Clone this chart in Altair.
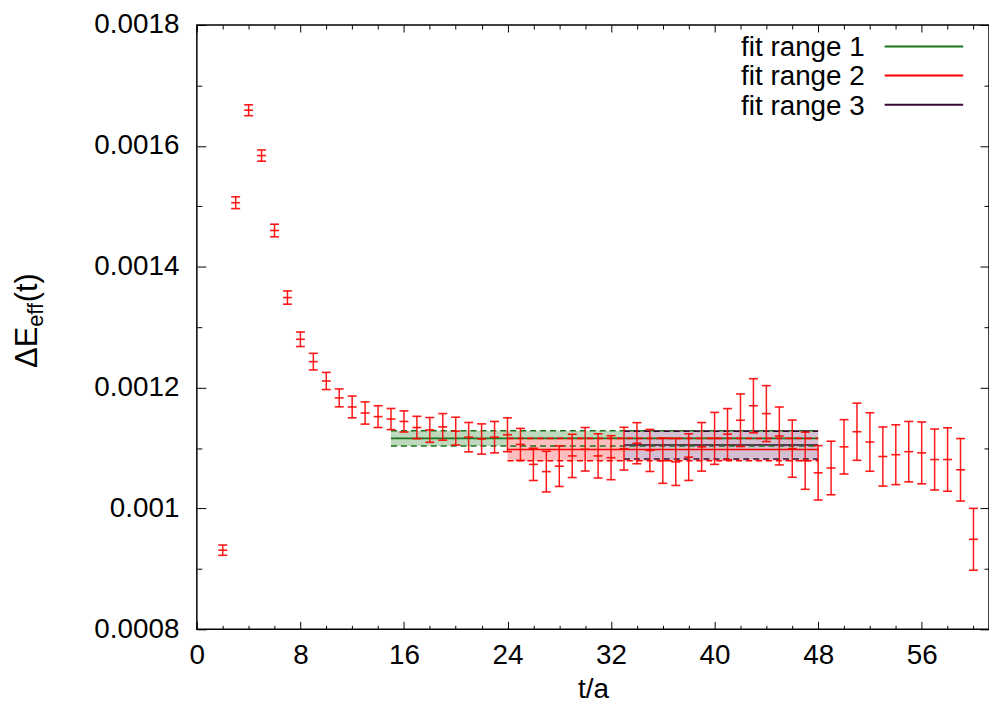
import altair as alt
import pandas as pd

# ---------------- data ----------------
t_vals = list(range(2, 61))
dE = [0.000931, 0.001506, 0.001659, 0.001584, 0.001460, 0.001349, 0.001280, 0.001243,
      0.001211, 0.001183, 0.001168, 0.001158, 0.001152, 0.001148, 0.001144, 0.001134,
      0.001130, 0.001135, 0.001128, 0.001118, 0.001115, 0.001118, 0.001122, 0.001106,
      0.001073, 0.001061, 0.001070, 0.001087, 0.001098, 0.001087, 0.001084, 0.001099,
      0.001108, 0.001096, 0.001079, 0.001077, 0.001085, 0.001102, 0.001116, 0.001123,
      0.001146, 0.001170, 0.001157, 0.001120, 0.001099, 0.001079, 0.001059, 0.001067,
      0.001102, 0.001127, 0.001110, 0.001086, 0.001089, 0.001094, 0.001092, 0.001081,
      0.001081, 0.001064, 0.000949]
dE_err = [8.5e-6, 9.8e-6, 9.0e-6, 9.3e-6, 1.04e-5, 1.1e-5, 1.2e-5, 1.37e-5,
          1.42e-5, 1.48e-5, 1.8e-5, 1.84e-5, 1.8e-5, 1.75e-5, 1.75e-5, 1.85e-5,
          2.05e-5, 2.2e-5, 2.3e-5, 2.43e-5, 2.5e-5, 2.6e-5, 2.8e-5, 2.65e-5,
          2.67e-5, 3.36e-5, 3.36e-5, 3.58e-5, 3.6e-5, 3.66e-5, 3.64e-5, 3.53e-5,
          3.4e-5, 3.48e-5, 3.74e-5, 3.89e-5, 3.86e-5, 4.02e-5, 4.3e-5, 4.23e-5,
          4.35e-5, 4.48e-5, 4.63e-5, 4.79e-5, 4.73e-5, 4.73e-5, 4.5e-5, 4.43e-5,
          4.5e-5, 4.73e-5, 4.84e-5, 4.89e-5, 4.95e-5, 5.0e-5, 5.12e-5, 5.05e-5,
          5.25e-5, 5.17e-5, 5.12e-5]

fit_names = ["fit range 1", "fit range 2", "fit range 3"]
fit_t0 = [15, 24, 33]
fit_t1 = [48, 48, 48]
fit_val = [0.001116, 0.0010975, 0.001105]
fit_err = [0.0000125, 0.0000185, 0.000023]
fit_line_colors = ["#1a741a", "#ff0000", "#3a0a34"]
fit_fill_colors = ["#bfd9bf", "#ffbfbf", "#d4c0d2"]

x_major = [0, 8, 16, 24, 32, 40, 48, 56]
x_minor = [v for v in range(0, 62, 2) if v % 8 != 0]
y_major = [0.0008, 0.0010, 0.0012, 0.0014, 0.0016, 0.0018]
y_minor = [0.0009, 0.0011, 0.0013, 0.0015, 0.0017]

FONT = "Liberation Sans"
FS = 28
W, H = 797, 608

err_df = pd.DataFrame({"t": t_vals, "v": dE, "e": dE_err})
err_df["lo"] = err_df["v"] - err_df["e"]
err_df["hi"] = err_df["v"] + err_df["e"]

fit_df = pd.DataFrame({"name": fit_names, "t0": fit_t0, "t1": fit_t1,
                       "val": fit_val, "err": fit_err,
                       "line": fit_line_colors, "fill": fit_fill_colors})
fit_df["lo"] = fit_df["val"] - fit_df["err"]
fit_df["hi"] = fit_df["val"] + fit_df["err"]

xs = alt.Scale(domain=[0, 61.2], nice=False, zero=False)
ys = alt.Scale(domain=[0.0008, 0.0018], nice=False, zero=False)


def tick_axis(orient, values, size):
    return alt.Axis(orient=orient, values=values, offset=-size, tickSize=size,
                    domain=False, grid=False, labels=False, title=None,
                    tickColor="black", tickWidth=1)


ax_xb_major = alt.Axis(orient="bottom", values=x_major, offset=-8, tickSize=8,
                       domain=False, grid=False, labels=True, labelFlush=False,
                       labelOverlap=False, labelFont=FONT, labelFontSize=FS,
                       labelColor="black", labelPadding=12, tickColor="black",
                       tickWidth=1, title="t/a", titleFont=FONT, titleFontSize=FS,
                       titleFontWeight="normal", titleColor="black", titlePadding=7)
ax_yl_major = alt.Axis(orient="left", values=y_major, offset=-9, tickSize=9,
                       domain=False, grid=False, labels=True, labelOverlap=False,
                       format="~g", labelFont=FONT, labelFontSize=FS,
                       labelColor="black", labelPadding=18, tickColor="black",
                       tickWidth=1, title=None)
ax_xb_minor = tick_axis("bottom", x_minor, 4)
ax_yl_minor = tick_axis("left", y_minor, 5)
ax_xt_major = tick_axis("top", x_major, 7)
ax_yr_major = tick_axis("right", y_major, 9)
ax_xt_minor = tick_axis("top", x_minor, 4)
ax_yr_minor = tick_axis("right", y_minor, 5)

fit_base = alt.Chart(fit_df)
bands = fit_base.mark_rect().encode(
    x=alt.X("t0:Q", scale=xs, axis=ax_xb_major),
    x2="t1:Q",
    y=alt.Y("lo:Q", scale=ys, axis=ax_yl_major),
    y2="hi:Q",
    color=alt.Color("fill:N", scale=None),
)
centers_fit = fit_base.mark_rule(strokeWidth=1.6).encode(
    x=alt.X("t0:Q", scale=xs, axis=ax_xb_minor),
    x2="t1:Q",
    y=alt.Y("val:Q", scale=ys, axis=ax_yl_minor),
    color=alt.Color("line:N", scale=None),
)
upper_fit = fit_base.mark_rule(strokeWidth=1.6, strokeDash=[6, 4]).encode(
    x=alt.X("t0:Q", scale=xs, axis=ax_xt_major),
    x2="t1:Q",
    y=alt.Y("hi:Q", scale=ys, axis=ax_yr_major),
    color=alt.Color("line:N", scale=None),
)
lower_fit = fit_base.mark_rule(strokeWidth=1.6, strokeDash=[6, 4]).encode(
    x=alt.X("t0:Q", scale=xs, axis=ax_xt_minor),
    x2="t1:Q",
    y=alt.Y("lo:Q", scale=ys, axis=ax_yr_minor),
    color=alt.Color("line:N", scale=None),
)

eb = alt.Chart(err_df)
RED = "#ff0000"
err_rules = eb.mark_rule(color=RED, strokeWidth=1.5, opacity=0.9).encode(
    x=alt.X("t:Q", scale=xs, axis=None),
    y=alt.Y("lo:Q", scale=ys, axis=None),
    y2="hi:Q",
)


def tick_layer(field):
    return eb.mark_tick(orient="horizontal", color=RED, size=9, thickness=1.6,
                        opacity=0.9).encode(
        x=alt.X("t:Q", scale=xs, axis=None),
        y=alt.Y(f"{field}:Q", scale=ys, axis=None))


caps_lo = tick_layer("lo")
caps_hi = tick_layer("hi")
pts = tick_layer("v")

# legend (top right, label then line sample)
legend_layers = []
for i, name in enumerate(fit_names):
    ly = 21.5 + 29.3 * i
    legend_layers.append(
        alt.Chart(pd.DataFrame({"label": [name]})).mark_text(
            align="right", baseline="middle", font=FONT, fontSize=FS,
            color="black", dy=2).encode(
            x=alt.value(672), y=alt.value(ly), text="label:N"))
    legend_layers.append(
        alt.Chart(pd.DataFrame({"label": [name]})).mark_rule(
            color=fit_line_colors[i], strokeWidth=2).encode(
            x=alt.value(692), x2=alt.value(771), y=alt.value(ly)))

# y-axis title  ΔE_eff(t)
ytitle_parts = [("ΔE", 31, -161, 345), ("eff", 22, -155, 303.6), ("(t)", 31, -161, 279)]
ytitle_layers = []
for txt, fs, px, py in ytitle_parts:
    ytitle_layers.append(
        alt.Chart(pd.DataFrame({"s": [txt]})).mark_text(
            angle=270, align="left", baseline="alphabetic", font=FONT,
            fontSize=fs, color="black").encode(
            x=alt.value(px), y=alt.value(py), text="s:N"))

chart = alt.layer(
    bands, centers_fit, upper_fit, lower_fit,
    err_rules, caps_lo, caps_hi, pts,
    *legend_layers, *ytitle_layers,
).resolve_axis(x="independent", y="independent").resolve_scale(
    x="shared", y="shared"
).properties(
    width=W, height=H,
    autosize=alt.AutoSizeParams(type="none"),
    padding={"left": 190, "top": 15, "right": 0, "bottom": 76},
    background="white",
).configure_view(stroke="black", strokeWidth=1.5)

chart.save("out.html", embed_options={"renderer": "svg", "actions": False})
